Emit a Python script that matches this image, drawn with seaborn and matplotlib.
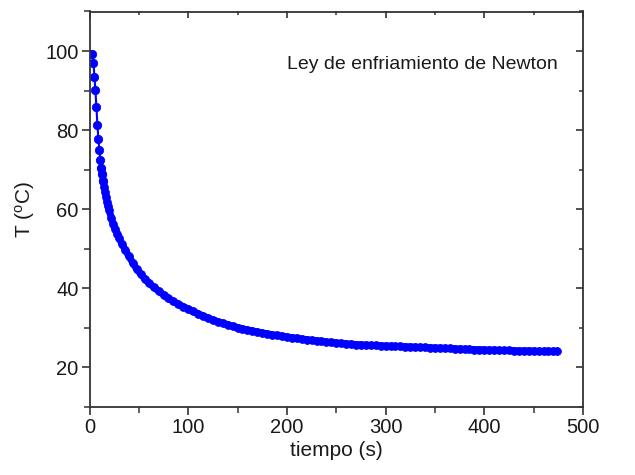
import matplotlib
matplotlib.use("Agg")
import matplotlib.pyplot as plt
import seaborn as sns
import pandas as pd

# time (s) and temperature (degC)
tiempo = [3, 4, 5, 6, 7, 8, 9, 10, 11, 12,
          13, 14, 15, 16, 17, 18, 19, 20, 22, 24, 26, 28, 30, 33, 36,
          40, 44, 48, 52, 56, 60, 65, 70, 75, 80, 85, 90, 95,
          100, 105, 110, 115, 120, 125, 130, 135, 140, 145, 150, 155,
          160, 165, 170, 175, 180, 185, 190, 195, 200, 205, 210, 215,
          220, 225, 230, 235, 240, 245, 250, 255, 260, 265, 270, 275,
          280, 285, 290, 295, 300, 305, 310, 315, 320, 325, 330, 335,
          340, 345, 350, 355, 360, 365, 370, 375, 380, 385, 390, 395,
          400, 405, 410, 415, 420, 425, 430, 435, 440, 445, 450, 455,
          460, 465, 470, 474]
temperatura = [99.2, 97.1, 93.5, 90.1, 85.8, 81.4, 77.8, 74.9, 72.5, 70.5,
               68.8, 67.2, 65.7, 64.3, 63.0, 61.8, 60.7, 59.7, 57.9, 56.3, 55.0, 53.8, 52.7, 51.2, 49.8,
               48.1, 46.4, 44.8, 43.6, 42.4, 41.4, 40.3, 39.3, 38.4, 37.5, 36.7, 36.0, 35.4,
               34.8, 34.2, 33.6, 33.0, 32.5, 32.0, 31.6, 31.2, 30.8, 30.45, 30.1, 29.8,
               29.5, 29.25, 29.0, 28.75, 28.5, 28.3, 28.1, 27.9, 27.7, 27.55, 27.4, 27.2,
               27.05, 26.9, 26.75, 26.6, 26.45, 26.35, 26.2, 26.1, 26.0, 25.9, 25.8, 25.75,
               25.65, 25.6, 25.55, 25.5, 25.45, 25.4, 25.35, 25.3, 25.25, 25.2, 25.15, 25.1,
               25.05, 25.0, 24.95, 24.9, 24.85, 24.8, 24.7, 24.7, 24.6, 24.6, 24.5, 24.5,
               24.45, 24.4, 24.4, 24.35, 24.3, 24.3, 24.25, 24.2, 24.2, 24.2, 24.15, 24.1,
               24.1, 24.1, 24.1, 24.1]

x_ticks = [0, 100, 200, 300, 400, 500]
y_ticks = [20, 40, 60, 80, 100]
titulo = "Ley de enfriamiento de Newton"

sns.set_theme(style="ticks")
plt.rcParams["font.family"] = ["Liberation Sans", "DejaVu Sans"]
plt.rcParams["mathtext.fontset"] = "custom"
plt.rcParams["mathtext.rm"] = "Liberation Sans"
plt.rcParams["mathtext.it"] = "Liberation Sans"

txt = "#1a1a1a"
df = pd.DataFrame({"t": tiempo, "T": temperatura})
early = df[df["t"] <= 14]
dense = df[df["t"] >= 12]

fig = plt.figure(figsize=(6.35, 4.75), dpi=100)
ax = fig.add_axes([89.5 / 635, 1 - 407 / 475, (583 - 89.5) / 635, (407 - 11.5) / 475])

# dense part of the record: markers overlap into a continuous band
sns.lineplot(data=dense, x="t", y="T", ax=ax, color="blue", marker="o",
             markersize=5.6, markeredgecolor="blue", markeredgewidth=0.6,
             linewidth=5.0, sort=False, estimator=None, solid_capstyle="round")
# first seconds: separate points joined by a thin line
sns.lineplot(data=early, x="t", y="T", ax=ax, color="blue", marker="o",
             markersize=6.0, markeredgecolor="blue", markeredgewidth=0.6,
             linewidth=1.5, sort=False, estimator=None)

ax.set_xlim(0, 500)
ax.set_ylim(10, 110)
ax.set_xticks(x_ticks)
ax.set_yticks(y_ticks)
ax.set_xticks([50, 150, 250, 350, 450], minor=True)
ax.set_yticks([10, 30, 50, 70, 90, 110], minor=True)

for s in ax.spines.values():
    s.set_visible(True)
    s.set_color("#333333")
    s.set_linewidth(1.3)

ax.tick_params(which="major", direction="out", length=6, width=1.2, color="#333333",
               labelsize=14.5, labelcolor=txt, pad=2)
ax.tick_params(which="minor", direction="out", length=4, width=1.1, color="#333333")

secx = ax.secondary_xaxis("top")
secx.set_xticks(x_ticks)
secx.set_xticks([50, 150, 250, 350, 450], minor=True)
secx.tick_params(which="major", direction="in", length=5, width=1.2, color="#333333", labeltop=False)
secx.tick_params(which="minor", direction="in", length=3, width=1.1, color="#333333")
secx.spines["top"].set_visible(False)

secy = ax.secondary_yaxis("right")
secy.set_yticks(y_ticks)
secy.set_yticks([10, 30, 50, 70, 90, 110], minor=True)
secy.tick_params(which="major", direction="in", length=5, width=1.2, color="#333333", labelright=False)
secy.tick_params(which="minor", direction="in", length=3, width=1.1, color="#333333")
secy.spines["right"].set_visible(False)

ax.set_xlabel("tiempo (s)", fontsize=15, color=txt, labelpad=3)
ax.set_ylabel(r"T ($^{\mathrm{o}}$C)", fontsize=15, color=txt, labelpad=6)

ax.text(0.400, 0.865, titulo, transform=ax.transAxes, ha="left", va="center",
        fontsize=14, color=txt)

fig.savefig("out.png", dpi=100)
